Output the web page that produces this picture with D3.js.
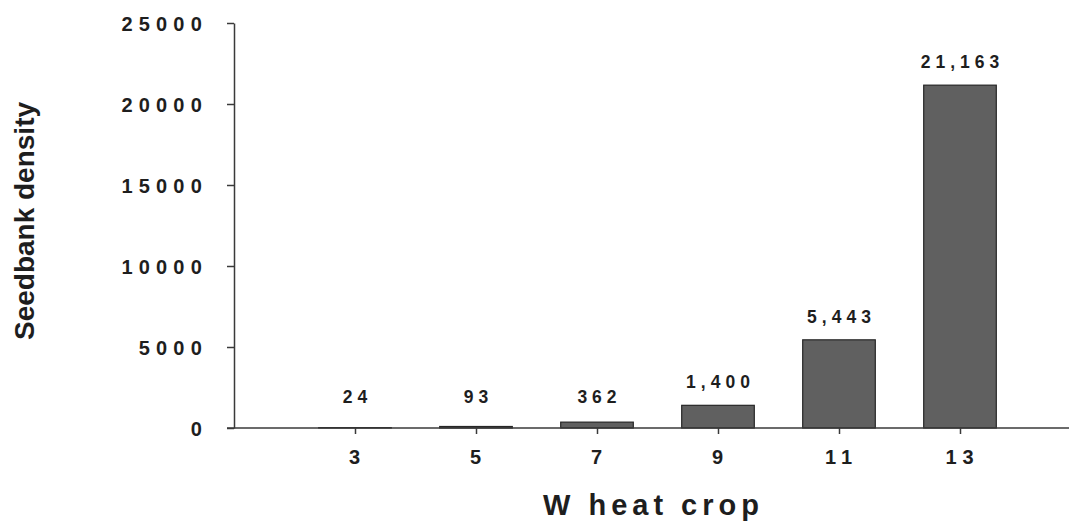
<!DOCTYPE html>
<html>
<head>
<meta charset="utf-8">
<script src="https://cdn.jsdelivr.net/npm/d3@7"></script>
<style>
  html, body { margin: 0; padding: 0; background: #ffffff; }
  svg { display: block; font-family: Arial, "Liberation Sans", sans-serif; }
</style>
</head>
<body>
<svg id="chart" width="1069" height="522"></svg>
<script>
// Wheat crop number vs. weed seedbank density
const crops = ["3", "5", "7", "9", "11", "13"];
const density = [24, 93, 362, 1400, 5443, 21163];
const densityLabels = ["24", "93", "362", "1,400", "5,443", "21,163"];
const yTicks = [0, 5000, 10000, 15000, 20000, 25000];

const svg = d3.select("#chart");

const x0 = 234, y0 = 428, yTop = 23;

const x = d3.scalePoint()
  .domain(crops)
  .range([x0, 1081])
  .padding(1);

const y = d3.scaleLinear()
  .domain([0, 25000])
  .range([y0, yTop]);

const barW = x.step() * 0.6;
const ink = "#1e1e1e";

// Y axis
const yAxis = svg.append("g")
  .attr("transform", `translate(${x0},0)`)
  .call(d3.axisLeft(y).tickValues(yTicks).tickSize(7).tickSizeOuter(0).tickPadding(19).tickFormat(d3.format("d")));
yAxis.select(".domain").attr("stroke", "#3a3a3a").attr("stroke-width", 1.5);
yAxis.selectAll(".tick line").attr("stroke", "#3a3a3a").attr("stroke-width", 1.5);
yAxis.selectAll(".tick text")
  .attr("fill", ink)
  .attr("font-size", "20px")
  .attr("font-weight", "bold")
  .attr("letter-spacing", "6.2px")
  .attr("dy", "0.36em");

// Bars
svg.append("g")
  .selectAll("rect")
  .data(density)
  .join("rect")
  .attr("x", (d, i) => x(crops[i]) - barW / 2)
  .attr("width", barW)
  .attr("y", d => y(d))
  .attr("height", d => y0 - y(d))
  .attr("fill", "#606060")
  .attr("stroke", "#262626")
  .attr("stroke-width", 1.2);

// X axis
const xAxis = svg.append("g")
  .attr("transform", `translate(0,${y0})`)
  .call(d3.axisBottom(x).tickSize(6).tickSizeOuter(0).tickPadding(16));
xAxis.select(".domain").attr("stroke", "#3a3a3a").attr("stroke-width", 1.5)
  .attr("d", `M${x0 - 7},0H1081`);
xAxis.selectAll(".tick line").attr("stroke", "#3a3a3a").attr("stroke-width", 1.5);
xAxis.selectAll(".tick text")
  .attr("fill", ink)
  .attr("font-size", "20px")
  .attr("font-weight", "bold")
  .attr("letter-spacing", "6px")
  .attr("dx", "2px");

// Value labels above bars
svg.append("g")
  .selectAll("text")
  .data(density)
  .join("text")
  .attr("x", (d, i) => x(crops[i]) + 2.5)
  .attr("y", d => Math.min(y(d) - 17, 403))
  .attr("text-anchor", "middle")
  .attr("fill", ink)
  .attr("font-size", "17.5px")
  .attr("font-weight", "bold")
  .attr("letter-spacing", "5px")
  .text((d, i) => densityLabels[i]);

// Axis titles
svg.append("text")
  .attr("transform", "translate(34,221) rotate(-90)")
  .attr("text-anchor", "middle")
  .attr("fill", ink)
  .attr("font-size", "28px")
  .attr("font-weight", "bold")
  .text("Seedbank density");

svg.append("text")
  .attr("x", 543)
  .attr("y", 515)
  .attr("fill", ink)
  .attr("font-size", "29px")
  .attr("font-weight", "bold")
  .attr("letter-spacing", "5px")
  .text("W heat crop");
</script>
</body>
</html>
